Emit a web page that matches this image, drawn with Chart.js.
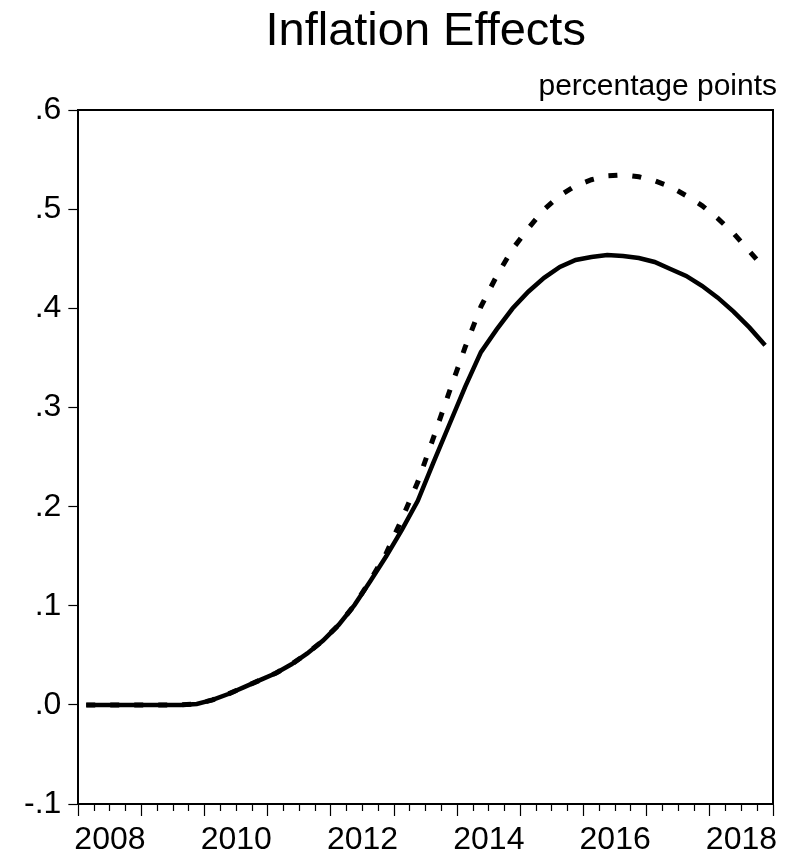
<!DOCTYPE html>
<html>
<head>
<meta charset="utf-8">
<script src="https://cdn.jsdelivr.net/npm/chart.js@4.4.1/dist/chart.umd.min.js"></script>
<style>
  html, body { margin: 0; padding: 0; background: #fff; }
  #wrap { width: 798px; height: 855px; }
</style>
</head>
<body>
<div id="wrap"><canvas id="c" width="798" height="855"></canvas></div>
<script>
// ---- Data ----
const quarters = [
  '2008Q1','2008Q2','2008Q3','2008Q4','2009Q1','2009Q2','2009Q3','2009Q4',
  '2010Q1','2010Q2','2010Q3','2010Q4','2011Q1','2011Q2','2011Q3','2011Q4',
  '2012Q1','2012Q2','2012Q3','2012Q4','2013Q1','2013Q2','2013Q3','2013Q4',
  '2014Q1','2014Q2','2014Q3','2014Q4','2015Q1','2015Q2','2015Q3','2015Q4',
  '2016Q1','2016Q2','2016Q3','2016Q4','2017Q1','2017Q2','2017Q3','2017Q4',
  '2018Q1','2018Q2','2018Q3','2018Q4'
];
const solidSeries = [
  0.000, 0.000, 0.000, 0.000, 0.000, 0.000, 0.000, 0.001,
  0.005, 0.011, 0.018, 0.025, 0.032, 0.041, 0.052, 0.065,
  0.081, 0.101, 0.125, 0.150, 0.177, 0.206, 0.245, 0.283,
  0.321, 0.356, 0.379, 0.400, 0.417, 0.431, 0.442, 0.449,
  0.452, 0.454, 0.453, 0.451, 0.447, 0.440, 0.433, 0.423,
  0.411, 0.397, 0.381, 0.363
];
const dashedSeries = [
  0.000, 0.000, 0.000, 0.000, 0.000, 0.000, 0.000, 0.001,
  0.005, 0.011, 0.018, 0.025, 0.032, 0.041, 0.052, 0.065,
  0.081, 0.101, 0.126, 0.153, 0.188, 0.225, 0.270, 0.316,
  0.361, 0.402, 0.433, 0.460, 0.481, 0.500, 0.514, 0.524,
  0.530, 0.534, 0.535, 0.533, 0.529, 0.523, 0.514, 0.504,
  0.491, 0.476, 0.458, 0.440
];
const xTickLabels = ['2008','2010','2012','2014','2016','2018'];
const yTickLabels = ['-.1','.0','.1','.2','.3','.4','.5','.6'];
const titleText = 'Inflation Effects';
const unitText = 'percentage points';

// ---- Chart ----
const FONT = "'Liberation Sans', Arial, Helvetica, sans-serif";

new Chart(document.getElementById('c'), {
  type: 'line',
  data: {
    labels: quarters,
    datasets: [
      {
        label: 'solid',
        data: solidSeries,
        borderColor: '#000',
        borderWidth: 4.5,
        pointRadius: 0,
        tension: 0,
        borderCapStyle: 'butt',
        xAxisID: 'x', yAxisID: 'y'
      },
      {
        label: 'dashed',
        data: dashedSeries,
        borderColor: '#000',
        borderWidth: 5,
        borderDash: [9, 15],
        pointRadius: 0,
        tension: 0,
        borderCapStyle: 'butt',
        xAxisID: 'x', yAxisID: 'y'
      }
    ]
  },
  options: {
    responsive: false,
    animation: false,
    devicePixelRatio: 1,
    layout: { padding: { left: 17, right: 21, top: 0, bottom: 0 } },
    plugins: {
      legend: { display: false },
      tooltip: { enabled: false },
      title: {
        display: true,
        text: titleText,
        fullSize: false,
        color: '#000',
        font: { family: FONT, size: 47, weight: 'normal' },
        padding: { top: 4, bottom: 8 }
      },
      subtitle: {
        display: true,
        text: unitText,
        align: 'end',
        fullSize: true,
        color: '#000',
        font: { family: FONT, size: 30, weight: 'normal' },
        padding: { top: 0, bottom: 6 }
      }
    },
    scales: {
      x: {
        type: 'category',
        position: 'bottom',
        offset: true,
        grid: {
          offset: true,
          drawOnChartArea: false,
          drawTicks: true,
          tickLength: 12,
          tickColor: '#000',
          tickWidth: 1.2,
          tickBorderDash: (ctx) => (ctx.index === undefined || ctx.index % 4 === 0) ? [] : [6, 40]
        },
        border: { display: true, color: '#000', width: 2 },
        ticks: {
          autoSkip: false,
          maxRotation: 0,
          minRotation: 0,
          color: '#000',
          padding: 8,
          labelOffset: 7.9,
          font: { family: FONT, size: 32, lineHeight: 1.0 },
          callback: function (value) {
            const q = quarters[value];
            const yr = q.slice(0, 4);
            return (q.endsWith('Q2') && xTickLabels.includes(yr)) ? yr : '';
          }
        },
        afterFit: function (scale) { scale.height = 51; }
      },
      x2: {
        type: 'linear',
        position: 'top',
        display: true,
        grid: { drawOnChartArea: false, drawTicks: false },
        border: { display: true, color: '#000', width: 2 },
        ticks: { display: false }
      },
      y: {
        type: 'linear',
        position: 'left',
        min: -0.1,
        max: 0.6,
        grid: {
          drawOnChartArea: false,
          drawTicks: true,
          tickLength: 10,
          tickColor: '#000',
          tickWidth: 1.2
        },
        border: { display: true, color: '#000', width: 2 },
        ticks: {
          stepSize: 0.1,
          color: '#000',
          padding: 7,
          font: { family: FONT, size: 32 },
          callback: function (value, index) {
            return yTickLabels[index];
          }
        }
      },
      y2: {
        type: 'linear',
        position: 'right',
        display: true,
        grid: { drawOnChartArea: false, drawTicks: false },
        border: { display: true, color: '#000', width: 2 },
        ticks: { display: false },
        afterFit: function (scale) { scale.width = 4; }
      }
    }
  }
});
</script>
</body>
</html>
